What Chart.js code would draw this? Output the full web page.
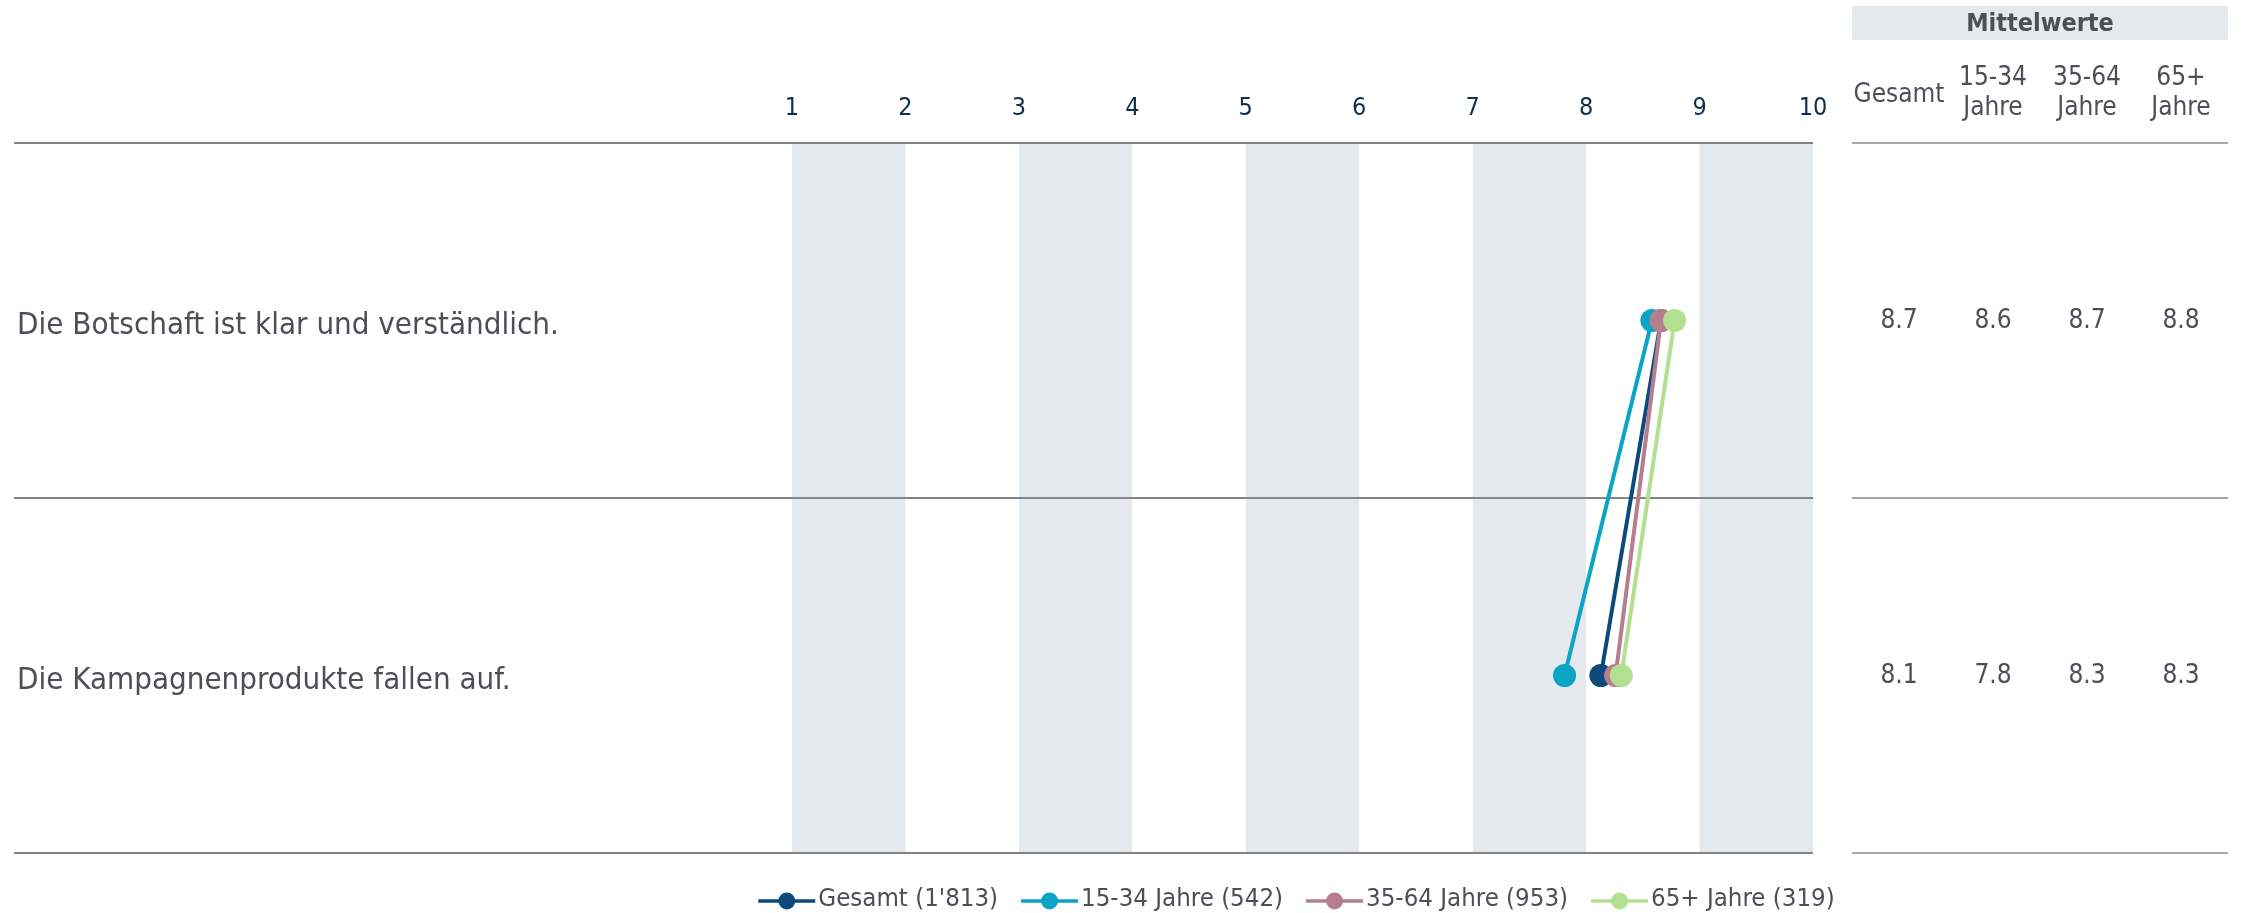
<!DOCTYPE html>
<html><head><meta charset="utf-8">
<script src="https://cdn.jsdelivr.net/npm/chart.js@4/dist/chart.umd.min.js"></script>
<style>html,body{margin:0;padding:0;background:#fff;}canvas{display:block}</style>
</head><body>
<canvas id="c" width="2243" height="913"></canvas>
<script>
// ---- data ----
const categories = ['Die Botschaft ist klar und verständlich.', 'Die Kampagnenprodukte fallen auf.'];
const seriesNames = ["Gesamt (1'813)", '15-34 Jahre (542)', '35-64 Jahre (953)', '65+ Jahre (319)'];
const gesamt = [8.66, 8.13];
const jahre1534 = [8.58, 7.81];
const jahre3564 = [8.66, 8.26];
const jahre65 = [8.78, 8.31];
const xTicks = [1, 2, 3, 4, 5, 6, 7, 8, 9, 10];
const shadedFrom = [1, 3, 5, 7, 9];
const tableTitle = 'Mittelwerte';
const tableHeaders = [['Gesamt'], ['15-34', 'Jahre'], ['35-64', 'Jahre'], ['65+', 'Jahre']];

// ---- styles ----
const FONT = '"DejaVu Sans Condensed", "DejaVu Sans", sans-serif';
const TXT = '#4a5056';
const COLORS = ['#0d4a7c', '#0ba4c4', '#b47e8e', '#b2e090'];
const BAND = '#e4e9ee';
Chart.defaults.font.family = FONT;

const bandsPlugin = {
  id: 'bands',
  beforeDraw(chart) {
    const { ctx, chartArea: a, scales: { x } } = chart;
    ctx.save();
    ctx.fillStyle = BAND;
    shadedFrom.forEach(v => {
      const x0 = x.getPixelForValue(v), x1 = x.getPixelForValue(v + 1);
      ctx.fillRect(x0, a.top, x1 - x0, a.bottom - a.top);
    });
    ctx.restore();
  }
};

const tablePlugin = {
  id: 'table',
  afterDraw(chart) {
    const { ctx, chartArea: a, scales: { y } } = chart;
    const left = 1852, colW = 94, right = left + colW * 4;
    ctx.save();
    ctx.fillStyle = BAND;
    ctx.fillRect(left, 6, right - left, 34);
    ctx.fillStyle = TXT;
    ctx.textAlign = 'center';
    ctx.textBaseline = 'middle';
    ctx.font = 'bold 25px ' + FONT;
    ctx.fillText(tableTitle, (left + right) / 2, 24);
    ctx.font = '26px ' + FONT;
    tableHeaders.forEach((h, i) => {
      const cx = left + colW * (i + 0.5);
      if (h.length === 1) ctx.fillText(h[0], cx, 95);
      else { ctx.fillText(h[0], cx, 78); ctx.fillText(h[1], cx, 108); }
    });
    ctx.strokeStyle = '#a6a6a6';
    ctx.lineWidth = 2;
    const n = categories.length, step = (a.bottom - a.top) / n;
    for (let i = 0; i <= n; i++) {
      const yy = Math.round(a.top + i * step);
      ctx.beginPath(); ctx.moveTo(left, yy); ctx.lineTo(right, yy); ctx.stroke();
    }
    chart.data.datasets.forEach((ds, j) => {
      ds.data.forEach((v, i) => {
        ctx.fillText(v.toFixed(1), left + colW * (j + 0.5), y.getPixelForValue(i) + 1);
      });
    });
    ctx.restore();
  }
};

const legendPlugin = {
  id: 'lineLegend',
  afterDraw(chart) {
    const { ctx, chartArea: a } = chart;
    ctx.save();
    ctx.font = '25.6px ' + FONT;
    const mw = 57, g1 = 3, g2 = 23;
    const items = chart.data.datasets.map(ds => ({ label: ds.label, color: ds.borderColor, w: ctx.measureText(ds.label).width }));
    const total = items.reduce((s, it) => s + mw + g1 + it.w, 0) + g2 * (items.length - 1);
    let x = (a.left + a.right) / 2 - 6 - total / 2;
    const yy = 899;
    items.forEach(it => {
      ctx.strokeStyle = it.color; ctx.lineWidth = 3.5;
      ctx.beginPath(); ctx.moveTo(x, yy + 2); ctx.lineTo(x + mw, yy + 2); ctx.stroke();
      ctx.fillStyle = it.color;
      ctx.beginPath(); ctx.arc(x + mw / 2, yy + 2, 8.5, 0, Math.PI * 2); ctx.fill();
      ctx.fillStyle = TXT; ctx.textAlign = 'left'; ctx.textBaseline = 'middle';
      ctx.fillText(it.label, x + mw + g1, yy);
      x += mw + g1 + it.w + g2;
    });
    ctx.restore();
  }
};

const series = [gesamt, jahre1534, jahre3564, jahre65];
new Chart(document.getElementById('c'), {
  type: 'line',
  data: {
    labels: categories,
    datasets: series.map((d, i) => ({
      label: seriesNames[i], data: d,
      borderColor: COLORS[i], backgroundColor: COLORS[i],
      pointBackgroundColor: COLORS[i],
      order: series.length - 1 - i
    }))
  },
  options: {
    responsive: false, animation: false, devicePixelRatio: 1,
    indexAxis: 'y',
    layout: { padding: { left: 17, right: 430, top: 0, bottom: 60 } },
    elements: {
      line: { borderWidth: 4, tension: 0, fill: false },
      point: { radius: 11.5, hoverRadius: 11.5, borderWidth: 0, pointStyle: 'circle' }
    },
    plugins: { legend: { display: false }, tooltip: { enabled: false } },
    scales: {
      x: {
        type: 'linear', position: 'top', min: 1, max: 10,
        afterBuildTicks: s => { s.ticks = xTicks.map(v => ({ value: v })); },
        ticks: { font: { size: 25 }, color: '#0f2f4a', padding: 20 },
        grid: { display: false, drawTicks: false },
        border: { display: false },
        afterFit: s => { s.height = 143; }
      },
      y: {
        type: 'category', position: 'left', offset: true,
        ticks: { crossAlign: 'far', font: { size: 31 }, color: TXT, labelOffset: 5, padding: 0 },
        grid: { offset: true, color: '#858585', lineWidth: 2, tickLength: 778, drawTicks: true },
        border: { display: false },
        afterFit: s => { s.width = 775; }
      }
    }
  },
  plugins: [bandsPlugin, tablePlugin, legendPlugin]
});
</script>
</body></html>
